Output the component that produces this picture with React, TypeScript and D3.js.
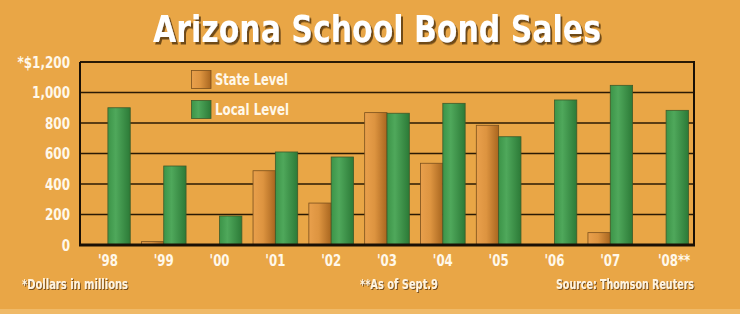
import React from "react";
import * as d3 from "d3";

const years = ["'98", "'99", "'00", "'01", "'02", "'03", "'04", "'05", "'06", "'07", "'08**"];
const stateLevel = [0, 22, 0, 487, 275, 868, 536, 785, 0, 81, 0];
const localLevel = [900, 518, 190, 610, 577, 864, 929, 710, 951, 1047, 883];
const yTicks = [0, 200, 400, 600, 800, 1000, 1200];
const seriesNames = ["State Level", "Local Level"];

const W = 740;
const H = 314;
const M = { left: 80, right: 694, top: 62, bottom: 245 };
const BG = "#E9A646";
const FONT = "'DejaVu Sans Condensed', 'Liberation Sans Narrow', 'Roboto Condensed', 'DejaVu Sans', sans-serif";

export default function App() {
  const x = d3.scaleBand<string>().domain(years).range([M.left, M.right]).paddingInner(0).paddingOuter(0);
  const bw = x.bandwidth();
  const sub = d3.scaleBand<string>().domain(["state", "local"]).range([bw * 0.1, bw * 0.9]).padding(0);
  const y = d3.scaleLinear().domain([0, 1200]).range([M.bottom, M.top]);
  const fmt = (v: number) => (v === 1200 ? "*$1,200" : d3.format(",")(v));

  const rows = years.map((yr, i) => ({ yr, state: stateLevel[i], local: localLevel[i] }));

  return (
    <svg width={W} height={H} style={{ position: "absolute", left: 0, top: 0, display: "block" }}>
      <defs>
        <linearGradient id="gState" x1="0" x2="1" y1="0" y2="0">
          <stop offset="0" stopColor="#E9A04C" />
          <stop offset="0.45" stopColor="#DD9440" />
          <stop offset="1" stopColor="#A9661F" />
        </linearGradient>
        <linearGradient id="gLocal" x1="0" x2="1" y1="0" y2="0">
          <stop offset="0" stopColor="#3C9448" />
          <stop offset="0.35" stopColor="#4FA85B" />
          <stop offset="1" stopColor="#2C7A37" />
        </linearGradient>
        <filter id="shadowBig" filterUnits="userSpaceOnUse" x={0} y={0} width={W} height={H}>
          <feDropShadow dx="2" dy="2.5" stdDeviation="0.6" floodColor="#5A3810" floodOpacity="0.85" />
        </filter>
        <filter id="shadowSmall" filterUnits="userSpaceOnUse" x={0} y={0} width={W} height={H}>
          <feDropShadow dx="1" dy="1" stdDeviation="0.3" floodColor="#5A3810" floodOpacity="0.8" />
        </filter>
      </defs>
      <rect x={0} y={0} width={W} height={H} fill={BG} />
      <rect x={0} y={309} width={W} height={5} fill="#F0BA68" />

      {/* Title */}
      <text x={377} y={42} textAnchor="middle" fontFamily={FONT} fontWeight="bold" fontSize={38}
        fill="#FFFFFF" textLength={448} lengthAdjust="spacingAndGlyphs" filter="url(#shadowBig)">Arizona School Bond Sales</text>

      {/* Gridlines */}
      {yTicks.filter((t) => t > 0).map((t) => (
        <line key={t} x1={M.left} x2={M.right} y1={y(t)} y2={y(t)} stroke="#2A1A05" strokeWidth={t === 1200 ? 2 : 1.5} />
      ))}
      {/* Frame */}
      <line x1={M.left} x2={M.left} y1={M.top} y2={M.bottom} stroke="#1A1005" strokeWidth={2} />
      <line x1={M.right} x2={M.right} y1={M.top - 1} y2={M.bottom} stroke="#1A1005" strokeWidth={2} />

      {/* Y labels */}
      {yTicks.map((t) => (
        <text key={t} transform={`translate(70,${y(t)}) scale(0.86,1)`} dy="0.36em" textAnchor="end" fontFamily={FONT} fontWeight="bold"
          fontSize={15.5} fill="#FFF8EA">{fmt(t)}</text>
      ))}

      {/* Bars */}
      {rows.map((r) => (
        <g key={r.yr} transform={`translate(${x(r.yr)},0)`}>
          {r.state > 0 && (
            <rect x={sub("state")} y={y(r.state)} width={sub.bandwidth()} height={y(0) - y(r.state)}
              fill="url(#gState)" stroke="#7A4F1C" strokeWidth={0.8} />
          )}
          <rect x={sub("local")} y={y(r.local)} width={sub.bandwidth()} height={y(0) - y(r.local)}
            fill="url(#gLocal)" stroke="#3E5A2A" strokeWidth={0.8} />
        </g>
      ))}

      {/* Baseline */}
      <line x1={M.left - 1} x2={M.right + 1} y1={M.bottom} y2={M.bottom} stroke="#1A1005" strokeWidth={3} />

      {/* X labels */}
      {years.map((yr) => (
        <text key={yr} transform={`translate(${(x(yr) as number) + bw / 2 + (yr.length > 3 ? 8 : 0)},260) scale(0.82,1)`}
          dy="0.36em" textAnchor="middle"
          fontFamily={FONT} fontWeight="bold" fontSize={16} fill="#FFF8EA">{yr}</text>
      ))}

      {/* Legend */}
      <rect x={191.5} y={70.5} width={19.5} height={18} fill="url(#gState)" stroke="#7A4F1C" strokeWidth={0.8} />
      <rect x={191.5} y={100.5} width={19.5} height={18} fill="url(#gLocal)" stroke="#3E5A2A" strokeWidth={0.8} />
      <text x={215} y={79.5} dy="0.36em" fontFamily={FONT} fontWeight="bold" fontSize={16.5} fill="#FFF8EA"
        textLength={73} lengthAdjust="spacingAndGlyphs">{seriesNames[0]}</text>
      <text x={215} y={109.5} dy="0.36em" fontFamily={FONT} fontWeight="bold" fontSize={16.5} fill="#FFF8EA"
        textLength={74} lengthAdjust="spacingAndGlyphs">{seriesNames[1]}</text>

      {/* Footer */}
      {[
        { t: "*Dollars in millions", x: 22, w: 106 },
        { t: "**As of Sept.9", x: 360, w: 78 },
        { t: "Source: Thomson Reuters", x: 556, w: 138 },
      ].map((f) => (
        <text key={f.t} x={f.x} y={284} dy="0.36em" fontFamily={FONT} fontWeight="bold" fontSize={13.5} fill="#FFF4E0"
          textLength={f.w} lengthAdjust="spacingAndGlyphs" filter="url(#shadowSmall)">{f.t}</text>
      ))}
    </svg>
  );
}
